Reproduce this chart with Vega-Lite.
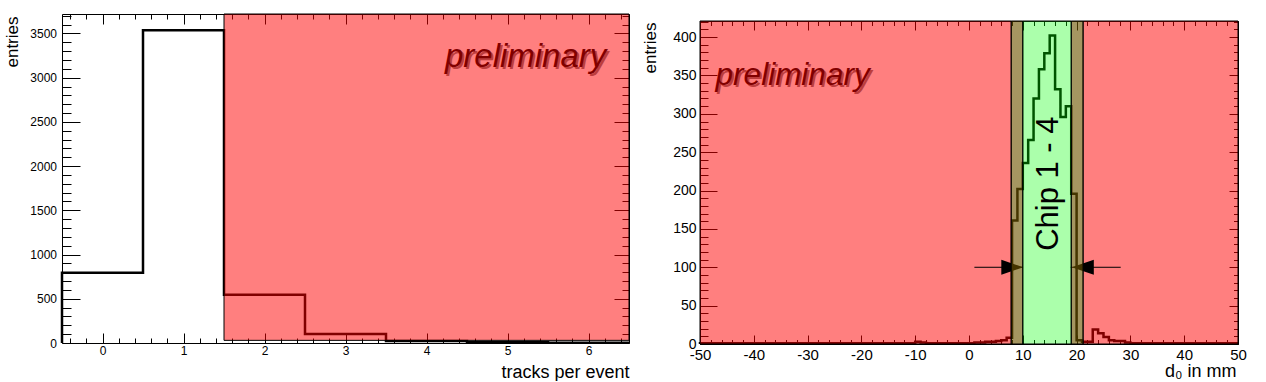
{
  "$schema": "https://vega.github.io/schema/vega-lite/v6.json",
  "background": "white",
  "padding": {"left": 3, "top": 13, "right": 0, "bottom": 0},
  "columns": 2,
  "spacing": 7,
  "config": {
    "font": "Liberation Sans",
    "view": {"stroke": null},
    "axis": {
      "grid": false, "domainColor": "black", "domainWidth": 1, "tickColor": "black", "tickWidth": 1,
      "labelColor": "black", "titleColor": "black", "labelFont": "Liberation Sans", "titleFont": "Liberation Sans",
      "titleFontWeight": "normal", "labelFlush": false, "labelOverlap": false, "labelBound": false, "zindex": 1
    }
  },
  "datasets": {
    "lh": [
      {"i": 0, "x": -0.5, "n": 0}, {"i": 1, "x": -0.5, "n": 795}, {"i": 2, "x": 0.5, "n": 3535},
      {"i": 3, "x": 1.5, "n": 546}, {"i": 4, "x": 2.5, "n": 101}, {"i": 5, "x": 3.5, "n": 22},
      {"i": 6, "x": 4.5, "n": 8}, {"i": 7, "x": 5.5, "n": 4}, {"i": 8, "x": 6.5, "n": 4}
    ],
    "lred": [{"x1": 1.5, "x2": 6.5, "y1": 30, "y2": 3720}],
    "lprel": [{"x": 6.22, "y": 3119, "t": "preliminary"}],
    "rh": [
      {"i": 0, "x": -50, "n": 0},
      {"i": 1, "x": -50, "n": 1}, {"i": 2, "x": -49, "n": 1}, {"i": 3, "x": -48, "n": 1}, {"i": 4, "x": -47, "n": 1}, {"i": 5, "x": -46, "n": 1},
      {"i": 6, "x": -45, "n": 1}, {"i": 7, "x": -44, "n": 1}, {"i": 8, "x": -43, "n": 1}, {"i": 9, "x": -42, "n": 1}, {"i": 10, "x": -41, "n": 1},
      {"i": 11, "x": -40, "n": 1}, {"i": 12, "x": -39, "n": 1}, {"i": 13, "x": -38, "n": 1}, {"i": 14, "x": -37, "n": 1}, {"i": 15, "x": -36, "n": 1},
      {"i": 16, "x": -35, "n": 1}, {"i": 17, "x": -34, "n": 1}, {"i": 18, "x": -33, "n": 1}, {"i": 19, "x": -32, "n": 1}, {"i": 20, "x": -31, "n": 1},
      {"i": 21, "x": -30, "n": 1}, {"i": 22, "x": -29, "n": 1}, {"i": 23, "x": -28, "n": 1}, {"i": 24, "x": -27, "n": 1}, {"i": 25, "x": -26, "n": 1},
      {"i": 26, "x": -25, "n": 1}, {"i": 27, "x": -24, "n": 1}, {"i": 28, "x": -23, "n": 1}, {"i": 29, "x": -22, "n": 1}, {"i": 30, "x": -21, "n": 1},
      {"i": 31, "x": -20, "n": 1}, {"i": 32, "x": -19, "n": 1}, {"i": 33, "x": -18, "n": 1}, {"i": 34, "x": -17, "n": 1}, {"i": 35, "x": -16, "n": 1},
      {"i": 36, "x": -15, "n": 1}, {"i": 37, "x": -14, "n": 1}, {"i": 38, "x": -13, "n": 1}, {"i": 39, "x": -12, "n": 1}, {"i": 40, "x": -11, "n": 1},
      {"i": 41, "x": -10, "n": 3}, {"i": 42, "x": -9, "n": 2}, {"i": 43, "x": -8, "n": 1}, {"i": 44, "x": -7, "n": 1}, {"i": 45, "x": -6, "n": 1},
      {"i": 46, "x": -5, "n": 1}, {"i": 47, "x": -4, "n": 1}, {"i": 48, "x": -3, "n": 1}, {"i": 49, "x": -2, "n": 1}, {"i": 50, "x": -1, "n": 1},
      {"i": 51, "x": 0, "n": 1}, {"i": 52, "x": 1, "n": 2}, {"i": 53, "x": 2, "n": 2}, {"i": 54, "x": 3, "n": 3}, {"i": 55, "x": 4, "n": 3},
      {"i": 56, "x": 5, "n": 4}, {"i": 57, "x": 6, "n": 5}, {"i": 58, "x": 7, "n": 8}, {"i": 59, "x": 8, "n": 161}, {"i": 60, "x": 9, "n": 202},
      {"i": 61, "x": 10, "n": 236}, {"i": 62, "x": 11, "n": 266}, {"i": 63, "x": 12, "n": 320}, {"i": 64, "x": 13, "n": 358}, {"i": 65, "x": 14, "n": 379},
      {"i": 66, "x": 15, "n": 402}, {"i": 67, "x": 16, "n": 332}, {"i": 68, "x": 17, "n": 296}, {"i": 69, "x": 18, "n": 310}, {"i": 70, "x": 19, "n": 196},
      {"i": 71, "x": 20, "n": 5}, {"i": 72, "x": 21, "n": 3}, {"i": 73, "x": 22, "n": 3}, {"i": 74, "x": 23, "n": 19}, {"i": 75, "x": 24, "n": 14},
      {"i": 76, "x": 25, "n": 9}, {"i": 77, "x": 26, "n": 5}, {"i": 78, "x": 27, "n": 4}, {"i": 79, "x": 28, "n": 4}, {"i": 80, "x": 29, "n": 2},
      {"i": 81, "x": 30, "n": 1}, {"i": 82, "x": 31, "n": 1}, {"i": 83, "x": 32, "n": 1}, {"i": 84, "x": 33, "n": 1}, {"i": 85, "x": 34, "n": 1},
      {"i": 86, "x": 35, "n": 1}, {"i": 87, "x": 36, "n": 1}, {"i": 88, "x": 37, "n": 1}, {"i": 89, "x": 38, "n": 1}, {"i": 90, "x": 39, "n": 1},
      {"i": 91, "x": 40, "n": 1}, {"i": 92, "x": 41, "n": 1}, {"i": 93, "x": 42, "n": 1}, {"i": 94, "x": 43, "n": 1}, {"i": 95, "x": 44, "n": 1},
      {"i": 96, "x": 45, "n": 1}, {"i": 97, "x": 46, "n": 1}, {"i": 98, "x": 47, "n": 1}, {"i": 99, "x": 48, "n": 1}, {"i": 100, "x": 49, "n": 1},
      {"i": 101, "x": 50, "n": 1}
    ],
    "rred": [{"x1": -50, "x2": 7.85, "y1": 0, "y2": 421}, {"x1": 21.2, "x2": 50, "y1": 0, "y2": 421}],
    "rolive": [{"x1": 7.85, "x2": 10, "y1": 0, "y2": 421}, {"x1": 19, "x2": 21.2, "y1": 0, "y2": 421}],
    "rgreen": [{"x1": 10, "x2": 19, "y1": 0, "y2": 421}],
    "rarrow": [{"x1": 1, "x2": 10, "y": 100}, {"x1": 18.9, "x2": 28.2, "y": 100}],
    "rhead": [{"x": 8.05, "y": 100, "dir": "right"}, {"x": 21.15, "y": 100, "dir": "left"}],
    "rprel": [{"x": -47.1, "y": 337, "t": "preliminary"}],
    "rchip": [{"x": 16.5, "y": 209, "t": "Chip 1 - 4"}]
  },
  "concat": [
    {
      "width": 567,
      "height": 329,
      "resolve": {"axis": {"x": "independent", "y": "independent"}},
      "layer": [
        {
          "data": {"name": "lh"},
          "mark": {"type": "line", "interpolate": "step-after", "color": "black", "strokeWidth": 2.5, "strokeJoin": "miter"},
          "encoding": {
            "x": {"field": "x", "type": "quantitative", "scale": {"domain": [-0.5, 6.5], "nice": false, "zero": false},
              "axis": {"orient": "bottom", "tickCount": 200,
                "values": [-0.4,-0.2,0,0.2,0.4,0.6,0.8,1,1.2,1.4,1.6,1.8,2,2.2,2.4,2.6,2.8,3,3.2,3.4,3.6,3.8,4,4.2,4.4,4.6,4.8,5,5.2,5.4,5.6,5.8,6,6.2,6.4],
                "labelExpr": "abs(datum.value - round(datum.value)) < 0.001 ? '' + round(datum.value) : ''",
                "tickSize": {"condition": {"test": "abs(datum.value - round(datum.value)) < 0.001", "value": -10}, "value": -5},
                "labelFontSize": {"condition": {"test": "abs(datum.value - round(datum.value)) < 0.001", "value": 12}, "value": 0},
                "labelPadding": 12.8,
                "title": "tracks per event", "titleFontSize": 18, "titleAnchor": "end", "titleAlign": "right", "titleBaseline": "alphabetic", "titleX": 567, "titleY": 34}},
            "y": {"field": "n", "type": "quantitative", "scale": {"domain": [0, 3720], "nice": false},
              "axis": {"orient": "left", "tickCount": 200,
                "values": [0,100,200,300,400,500,600,700,800,900,1000,1100,1200,1300,1400,1500,1600,1700,1800,1900,2000,2100,2200,2300,2400,2500,2600,2700,2800,2900,3000,3100,3200,3300,3400,3500,3600,3700],
                "labelExpr": "datum.value % 500 === 0 ? '' + datum.value : ''",
                "tickSize": {"condition": {"test": "datum.value % 500 === 0", "value": -18}, "value": -9},
                "labelFontSize": {"condition": {"test": "datum.value % 500 === 0", "value": 12}, "value": 0},
                "labelPadding": 23.5,
                "title": "entries", "titleFontSize": 17, "titleAngle": 270, "titleAnchor": "end", "titleAlign": "right", "titleBaseline": "alphabetic", "titleX": -45, "titleY": 2}},
            "order": {"field": "i", "type": "quantitative"}
          }
        },
        {
          "data": {"name": "lprel"},
          "mark": {"type": "text", "align": "right", "baseline": "alphabetic", "font": "Liberation Sans", "fontStyle": "italic", "fontSize": 33, "color": "#7a7a7a", "dx": 2, "dy": 2},
          "encoding": {
            "x": {"field": "x", "type": "quantitative", "scale": {"domain": [-0.5, 6.5], "nice": false, "zero": false}, "axis": null},
            "y": {"field": "y", "type": "quantitative", "scale": {"domain": [0, 3720], "nice": false}, "axis": null},
            "text": {"field": "t"}
          }
        },
        {
          "data": {"name": "lprel"},
          "mark": {"type": "text", "align": "right", "baseline": "alphabetic", "font": "Liberation Sans", "fontStyle": "italic", "fontSize": 33, "color": "black"},
          "encoding": {
            "x": {"field": "x", "type": "quantitative", "scale": {"domain": [-0.5, 6.5], "nice": false, "zero": false}, "axis": null},
            "y": {"field": "y", "type": "quantitative", "scale": {"domain": [0, 3720], "nice": false}, "axis": null},
            "text": {"field": "t"}
          }
        },
        {
          "data": {"name": "lred"},
          "mark": {"type": "rect", "fill": "red", "fillOpacity": 0.5, "stroke": "black", "strokeWidth": 1},
          "encoding": {
            "x": {"field": "x1", "type": "quantitative", "scale": {"domain": [-0.5, 6.5], "nice": false, "zero": false},
              "axis": {"orient": "top", "labels": false, "title": null, "tickCount": 200,
                "values": [-0.4,-0.2,0,0.2,0.4,0.6,0.8,1,1.2,1.4,1.6,1.8,2,2.2,2.4,2.6,2.8,3,3.2,3.4,3.6,3.8,4,4.2,4.4,4.6,4.8,5,5.2,5.4,5.6,5.8,6,6.2,6.4],
                "tickSize": {"condition": {"test": "abs(datum.value - round(datum.value)) < 0.001", "value": -10}, "value": -5}}},
            "x2": {"field": "x2"},
            "y": {"field": "y1", "type": "quantitative", "scale": {"domain": [0, 3720], "nice": false},
              "axis": {"orient": "right", "labels": false, "title": null, "tickCount": 200,
                "values": [0,100,200,300,400,500,600,700,800,900,1000,1100,1200,1300,1400,1500,1600,1700,1800,1900,2000,2100,2200,2300,2400,2500,2600,2700,2800,2900,3000,3100,3200,3300,3400,3500,3600,3700],
                "tickSize": {"condition": {"test": "datum.value % 500 === 0", "value": -15}, "value": -7}}},
            "y2": {"field": "y2"}
          }
        }
      ]
    },
    {
      "spacing": 5,
      "vconcat": [
        {
          "width": 538,
          "height": 1,
          "data": {"values": []},
          "mark": {"type": "text"},
          "encoding": {}
        },
        {
          "width": 538,
          "height": 323,
          "resolve": {"axis": {"x": "independent", "y": "independent"}},
          "layer": [
            {
              "data": {"name": "rh"},
              "mark": {"type": "line", "interpolate": "step-after", "color": "black", "strokeWidth": 2.5, "strokeJoin": "miter"},
              "encoding": {
                "x": {"field": "x", "type": "quantitative", "scale": {"domain": [-50, 50], "nice": false, "zero": false},
                  "axis": {"orient": "bottom", "tickCount": 200,
                    "values": [-50,-48,-46,-44,-42,-40,-38,-36,-34,-32,-30,-28,-26,-24,-22,-20,-18,-16,-14,-12,-10,-8,-6,-4,-2,0,2,4,6,8,10,12,14,16,18,20,22,24,26,28,30,32,34,36,38,40,42,44,46,48,50],
                    "labelExpr": "datum.value % 10 === 0 ? '' + datum.value : ''",
                    "tickSize": {"condition": {"test": "datum.value % 10 === 0", "value": -9}, "value": -4.5},
                    "labelFontSize": {"condition": {"test": "datum.value % 10 === 0", "value": 15}, "value": 0},
                    "labelPadding": 12.7,
                    "title": "d₀ in mm", "titleFontSize": 18, "titleAnchor": "end", "titleAlign": "right", "titleBaseline": "alphabetic", "titleX": 536, "titleY": 32}},
                "y": {"field": "n", "type": "quantitative", "scale": {"domain": [0, 421], "nice": false},
                  "axis": {"orient": "left", "tickCount": 200,
                    "values": [0,10,20,30,40,50,60,70,80,90,100,110,120,130,140,150,160,170,180,190,200,210,220,230,240,250,260,270,280,290,300,310,320,330,340,350,360,370,380,390,400,410,420],
                    "labelExpr": "datum.value % 50 === 0 ? '' + datum.value : ''",
                    "tickSize": {"condition": {"test": "datum.value % 50 === 0", "value": -17}, "value": -8},
                    "labelFontSize": {"condition": {"test": "datum.value % 50 === 0", "value": 14}, "value": 0},
                    "labelPadding": 21,
                    "title": "entries", "titleFontSize": 17, "titleAngle": 270, "titleAnchor": "end", "titleAlign": "right", "titleBaseline": "alphabetic", "titleX": -44.5, "titleY": 1}},
                "order": {"field": "i", "type": "quantitative"}
              }
            },
            {
              "data": {"name": "rprel"},
              "mark": {"type": "text", "align": "left", "baseline": "alphabetic", "font": "Liberation Sans", "fontStyle": "italic", "fontSize": 31.5, "color": "#7a7a7a", "dx": 2, "dy": 2},
              "encoding": {
                "x": {"field": "x", "type": "quantitative", "scale": {"domain": [-50, 50], "nice": false, "zero": false}, "axis": null},
                "y": {"field": "y", "type": "quantitative", "scale": {"domain": [0, 421], "nice": false}, "axis": null},
                "text": {"field": "t"}
              }
            },
            {
              "data": {"name": "rprel"},
              "mark": {"type": "text", "align": "left", "baseline": "alphabetic", "font": "Liberation Sans", "fontStyle": "italic", "fontSize": 31.5, "color": "black"},
              "encoding": {
                "x": {"field": "x", "type": "quantitative", "scale": {"domain": [-50, 50], "nice": false, "zero": false}, "axis": null},
                "y": {"field": "y", "type": "quantitative", "scale": {"domain": [0, 421], "nice": false}, "axis": null},
                "text": {"field": "t"}
              }
            },
            {
              "data": {"name": "rred"},
              "mark": {"type": "rect", "fill": "red", "fillOpacity": 0.5, "stroke": "black", "strokeWidth": 1},
              "encoding": {
                "x": {"field": "x1", "type": "quantitative", "scale": {"domain": [-50, 50], "nice": false, "zero": false},
                  "axis": {"orient": "top", "title": null, "tickCount": 200, "labels": false,
                    "values": [-50,-48,-46,-44,-42,-40,-38,-36,-34,-32,-30,-28,-26,-24,-22,-20,-18,-16,-14,-12,-10,-8,-6,-4,-2,0,2,4,6,8,10,12,14,16,18,20,22,24,26,28,30,32,34,36,38,40,42,44,46,48,50],
                    "tickSize": {"condition": {"test": "datum.value % 10 === 0", "value": -9}, "value": -4.5}}},
                "x2": {"field": "x2"},
                "y": {"field": "y1", "type": "quantitative", "scale": {"domain": [0, 421], "nice": false},
                  "axis": {"orient": "right", "labels": false, "title": null, "tickCount": 200,
                    "values": [0,10,20,30,40,50,60,70,80,90,100,110,120,130,140,150,160,170,180,190,200,210,220,230,240,250,260,270,280,290,300,310,320,330,340,350,360,370,380,390,400,410,420],
                    "tickSize": {"condition": {"test": "datum.value % 50 === 0", "value": -9}, "value": -4.5}}},
                "y2": {"field": "y2"}
              }
            },
            {
              "data": {"name": "rarrow"},
              "mark": {"type": "rule", "color": "black", "strokeWidth": 1},
              "encoding": {
                "x": {"field": "x1", "type": "quantitative", "scale": {"domain": [-50, 50], "nice": false, "zero": false}, "axis": null},
                "x2": {"field": "x2"},
                "y": {"field": "y", "type": "quantitative", "scale": {"domain": [0, 421], "nice": false}, "axis": null}
              }
            },
            {
              "data": {"name": "rhead"},
              "mark": {"type": "point", "filled": true, "color": "black", "opacity": 1, "size": 484, "strokeWidth": 0},
              "encoding": {
                "x": {"field": "x", "type": "quantitative", "scale": {"domain": [-50, 50], "nice": false, "zero": false}, "axis": null},
                "y": {"field": "y", "type": "quantitative", "scale": {"domain": [0, 421], "nice": false}, "axis": null},
                "shape": {"field": "dir", "type": "nominal", "legend": null,
                  "scale": {"domain": ["right", "left"], "range": ["M -1 -0.68 L 1 0 L -1 0.68 Z", "M 1 -0.68 L -1 0 L 1 0.68 Z"]}}
              }
            },
            {
              "data": {"name": "rolive"},
              "mark": {"type": "rect", "fill": "#6E5500", "fillOpacity": 0.62, "stroke": "black", "strokeWidth": 1},
              "encoding": {
                "x": {"field": "x1", "type": "quantitative", "scale": {"domain": [-50, 50], "nice": false, "zero": false}, "axis": null},
                "x2": {"field": "x2"},
                "y": {"field": "y1", "type": "quantitative", "scale": {"domain": [0, 421], "nice": false}, "axis": null},
                "y2": {"field": "y2"}
              }
            },
            {
              "data": {"name": "rgreen"},
              "mark": {"type": "rect", "fill": "#00FF00", "fillOpacity": 0.33, "stroke": "black", "strokeWidth": 1},
              "encoding": {
                "x": {"field": "x1", "type": "quantitative", "scale": {"domain": [-50, 50], "nice": false, "zero": false}, "axis": null},
                "x2": {"field": "x2"},
                "y": {"field": "y1", "type": "quantitative", "scale": {"domain": [0, 421], "nice": false}, "axis": null},
                "y2": {"field": "y2"}
              }
            },
            {
              "data": {"name": "rchip"},
              "mark": {"type": "text", "align": "center", "baseline": "alphabetic", "font": "Liberation Sans", "fontSize": 31, "color": "black", "angle": 270},
              "encoding": {
                "x": {"field": "x", "type": "quantitative", "scale": {"domain": [-50, 50], "nice": false, "zero": false}, "axis": null},
                "y": {"field": "y", "type": "quantitative", "scale": {"domain": [0, 421], "nice": false}, "axis": null},
                "text": {"field": "t"}
              }
            }
          ]
        }
      ]
    }
  ]
}
